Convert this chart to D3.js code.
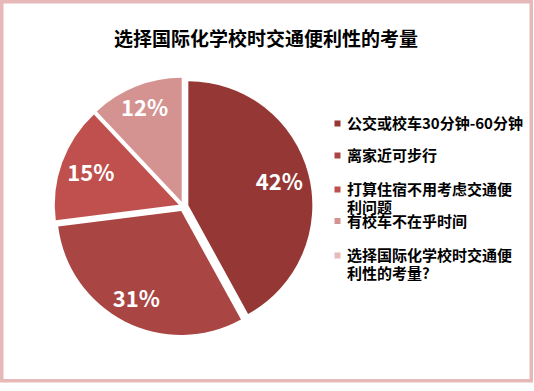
<!DOCTYPE html>
<html><head><meta charset="utf-8">
<script src="https://cdn.jsdelivr.net/npm/d3@7/dist/d3.min.js"></script>
<style>html,body{margin:0;padding:0;background:#fff;}svg{display:block;}</style>
</head><body>
<svg id="chart" width="534" height="391"></svg>
<script>
const title = "选择国际化学校时交通便利性的考量";
const categories = ["公交或校车30分钟-60分钟","离家近可步行","打算住宿不用考虑交通便利问题","有校车不在乎时间","选择国际化学校时交通便利性的考量?"];
const legendLines = [["公交或校车30分钟-60分钟"],["离家近可步行"],["打算住宿不用考虑交通便","利问题"],["有校车不在乎时间"],["选择国际化学校时交通便","利性的考量?"]];
const values = [42,31,15,12,0];
const colors = ["#953735","#A94644","#C0504D","#D49391","#E6BAB9"];

const svg = d3.select("#chart");
const font = "'Noto Sans CJK SC','Noto Sans',sans-serif";

// border
svg.append("rect").attr("x",1.75).attr("y",1.75).attr("width",529.5).attr("height",379)
  .attr("fill","#fff").attr("stroke","#E6B9B8").attr("stroke-width",3.5);

svg.append("text").attr("x",266).attr("y",46).attr("text-anchor","middle")
  .attr("font-family",font).attr("font-weight","bold").attr("font-size",19).attr("fill","#000")
  .text(title);

const cx = 183.5, cy = 206.5, r = 124, off = 5;
const pie = d3.pie().sort(null).value(d=>d).startAngle(0).endAngle(2*Math.PI);
const arcs = pie(values);
const arc = d3.arc().innerRadius(0).outerRadius(r);
const g = svg.append("g").attr("transform",`translate(${cx},${cy})`);

const slices = g.selectAll("g.slice").data(arcs.filter(d=>d.value>0)).enter().append("g")
  .attr("transform",d=>{
    const a=(d.startAngle+d.endAngle)/2;
    return `translate(${Math.sin(a)*off},${-Math.cos(a)*off})`;
  });
slices.append("path").attr("d",arc).attr("fill",(d)=>colors[d.index]);

slices.each(function(d){
  const a=(d.startAngle+d.endAngle)/2;
  const t = d3.select(this).append("text")
    .attr("font-family",font).attr("font-weight","bold").attr("font-size",22)
    .attr("fill","#fff").attr("text-anchor","middle")
    .text(Math.round(d.value)+"%");
  const bb = t.node().getBBox();
  const hw = bb.width/2, hh = 11;
  const dist = r - 4.5 - (hw*Math.abs(Math.sin(a)) + hh*Math.abs(Math.cos(a)));
  const x = Math.sin(a)*dist, y = -Math.cos(a)*dist;
  t.attr("x",x).attr("y",y+8);
});

// legend
const rowY = [123.5,155.5,189.5,221,255.5];
const lg = svg.append("g");
categories.forEach((c,i)=>{
  lg.append("rect").attr("x",334.5).attr("y",rowY[i]-3).attr("width",6).attr("height",6).attr("fill",colors[i]);
  const t = lg.append("text").attr("font-family",font).attr("font-weight","bold").attr("font-size",15).attr("fill","#000");
  legendLines[i].forEach((ln,j)=>{
    t.append("tspan").attr("x",347).attr("y",rowY[i]+5.5+j*18).text(ln);
  });
});
</script>
</body></html>
